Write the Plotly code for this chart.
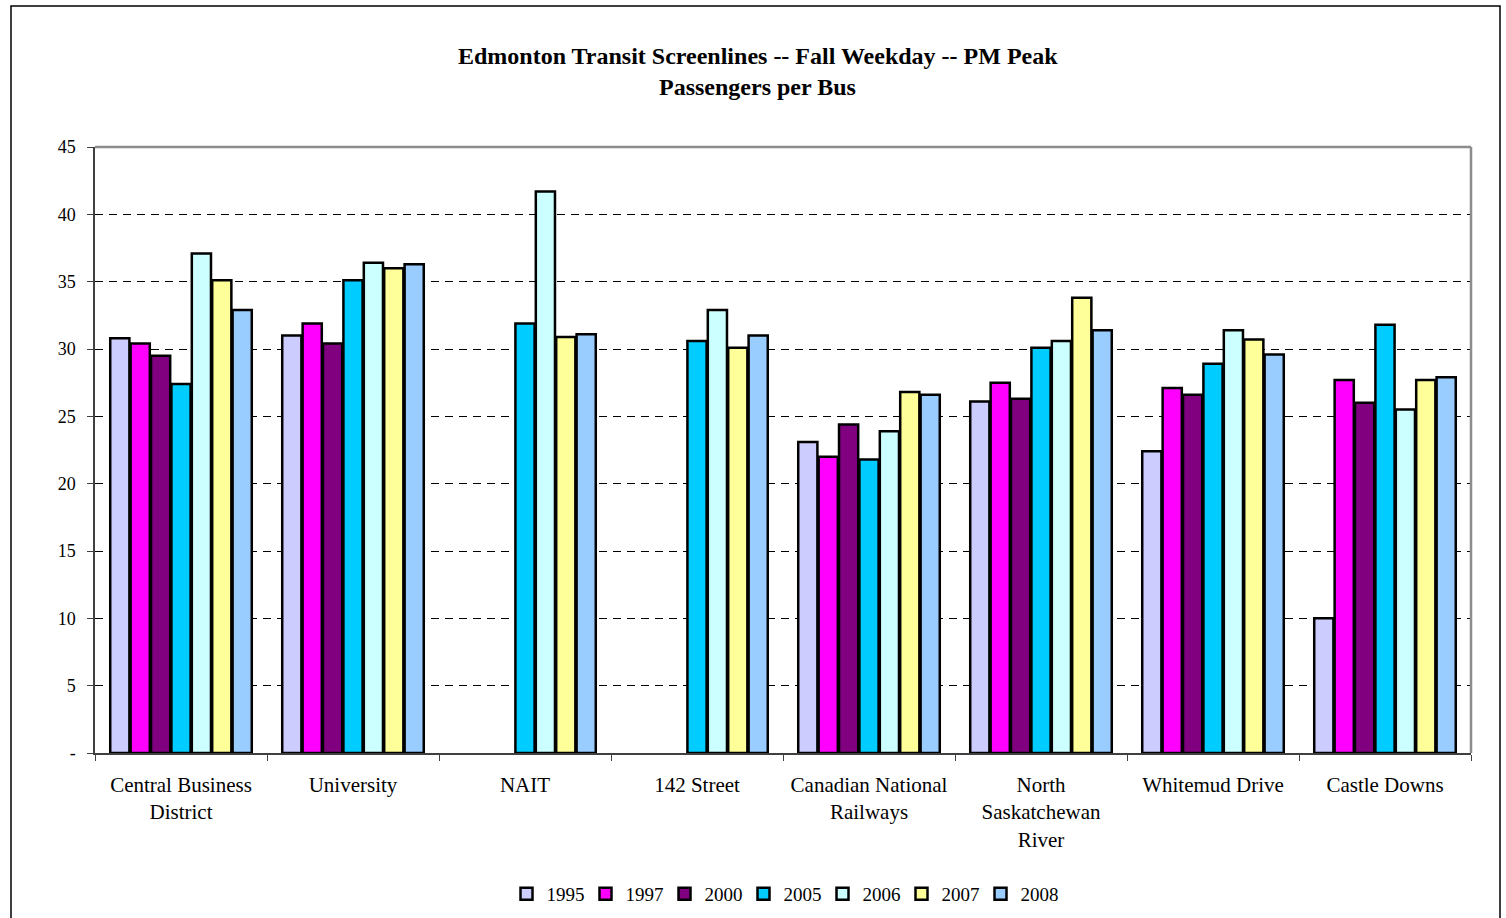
import plotly.graph_objects as go

# Screenline categories (line breaks as printed under the axis)
categories = [
    "Central Business<br>District",
    "University",
    "NAIT",
    "142 Street",
    "Canadian National<br>Railways",
    "North<br>Saskatchewan<br>River",
    "Whitemud Drive",
    "Castle Downs",
]

# Passengers per bus, one list per survey year (None = no count that year)
y1995 = [30.8, 31.0, None, None, 23.1, 26.1, 22.4, 10.0]
y1997 = [30.4, 31.9, None, None, 22.0, 27.5, 27.1, 27.7]
y2000 = [29.5, 30.4, None, None, 24.4, 26.3, 26.6, 26.0]
y2005 = [27.4, 35.1, 31.9, 30.6, 21.8, 30.1, 28.9, 31.8]
y2006 = [37.1, 36.4, 41.7, 32.9, 23.9, 30.6, 31.4, 25.5]
y2007 = [35.1, 36.0, 30.9, 30.1, 26.8, 33.8, 30.7, 27.7]
y2008 = [32.9, 36.3, 31.1, 31.0, 26.6, 31.4, 29.6, 27.9]

years = ["1995", "1997", "2000", "2005", "2006", "2007", "2008"]
series = [y1995, y1997, y2000, y2005, y2006, y2007, y2008]
colors = ["#CCCCFF", "#FF00FF", "#800080", "#00CCFF", "#CCFFFF", "#FFFF99", "#99CCFF"]

# Value axis ticks (zero shown as a dash, accounting style)
ytick_vals = [0, 5, 10, 15, 20, 25, 30, 35, 40, 45]
ytick_text = ["-", "5", "10", "15", "20", "25", "30", "35", "40", "45"]

FONT = "Liberation Serif, Times New Roman, serif"

fig = go.Figure()
for name, vals, col in zip(years, series, colors):
    fig.add_trace(go.Bar(
        name=name,
        x=categories,
        y=vals,
        marker=dict(color=col, line=dict(color="#000000", width=2.5)),
    ))

# plot area in pixels: x 95..1471, y 147..753
L, R, T, B = 95, 35, 147, 165
W, H = 1506, 918
pw, ph = W - L - R, H - T - B


def px_x(x):
    return (x - L) / pw


def px_y(y):
    return (H - B - y) / ph


fig.update_layout(
    width=W, height=H,
    margin=dict(l=L, r=R, t=T, b=B, autoexpand=False),
    paper_bgcolor="white",
    plot_bgcolor="white",
    barmode="group",
    bargap=0.17,
    bargroupgap=0.06,
    font=dict(family=FONT, color="#000000", size=18),
    showlegend=True,
    legend=dict(
        orientation="h",
        x=0.5, xanchor="center",
        y=px_y(894), yanchor="middle",
        font=dict(family=FONT, size=19),
        itemwidth=30,
        entrywidth=34,
        entrywidthmode="pixels",
        traceorder="normal",
    ),
    xaxis=dict(
        type="category",
        automargin=False,
        showline=True, linecolor="#404040", linewidth=1.5,
        ticks="outside", tickson="boundaries", ticklen=6, tickcolor="#404040",
        showgrid=False,
        tickfont=dict(family=FONT, size=21),
        ticklabelstandoff=12,
        fixedrange=True,
    ),
    yaxis=dict(
        range=[0, 45],
        automargin=False,
        tickvals=ytick_vals, ticktext=ytick_text,
        showline=True, linecolor="#404040", linewidth=1.5,
        ticks="outside", ticklen=6, tickcolor="#404040",
        showgrid=True, gridcolor="#000000", gridwidth=1, griddash="8px,6px",
        zeroline=False,
        tickfont=dict(family=FONT, size=18),
        ticklabelstandoff=8,
    ),
    annotations=[
        dict(text="<b>Edmonton Transit Screenlines -- Fall Weekday -- PM Peak</b>",
             xref="paper", yref="paper", x=px_x(758), y=px_y(56),
             xanchor="center", yanchor="middle", showarrow=False,
             font=dict(family=FONT, size=24)),
        dict(text="<b>Passengers per Bus</b>",
             xref="paper", yref="paper", x=px_x(757), y=px_y(87),
             xanchor="center", yanchor="middle", showarrow=False,
             font=dict(family=FONT, size=24)),
    ],
    shapes=[
        # gray frame on the top and right of the plot area
        dict(type="line", xref="paper", yref="paper", x0=0, x1=1, y0=1, y1=1,
             line=dict(color="#8C8C8C", width=2.5), layer="above"),
        dict(type="line", xref="paper", yref="paper", x0=1, x1=1, y0=0, y1=1,
             line=dict(color="#8C8C8C", width=2.5), layer="above"),
        # outer chart border
        dict(type="rect", xref="paper", yref="paper",
             x0=px_x(11), x1=px_x(1500), y0=px_y(925), y1=px_y(6),
             line=dict(color="#000000", width=1.5), layer="below"),
    ],
)

fig.write_html("out.html")
